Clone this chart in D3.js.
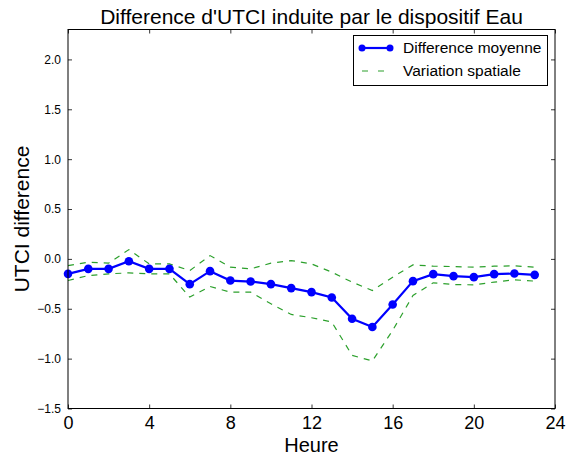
<!DOCTYPE html>
<html><head><meta charset="utf-8">
<script src="https://cdn.jsdelivr.net/npm/d3@7"></script>
<style>body{margin:0;background:#fff;} svg{display:block;font-family:"Liberation Sans",Arial,sans-serif;}</style>
</head><body>
<script>
const hours = d3.range(0, 24);
const meanDiff = [-0.15,-0.10,-0.10,-0.023,-0.10,-0.10,-0.253,-0.123,-0.217,-0.227,-0.253,-0.293,-0.333,-0.387,-0.60,-0.683,-0.457,-0.223,-0.153,-0.173,-0.183,-0.153,-0.147,-0.16];
const upperBand = [-0.067,-0.033,-0.043,0.093,-0.05,-0.05,-0.117,0.033,-0.083,-0.10,-0.043,-0.017,-0.05,-0.133,-0.233,-0.317,-0.183,-0.06,-0.073,-0.077,-0.083,-0.073,-0.07,-0.083];
const lowerBand = [-0.217,-0.167,-0.15,-0.14,-0.15,-0.15,-0.383,-0.277,-0.333,-0.333,-0.45,-0.557,-0.59,-0.633,-0.967,-1.023,-0.717,-0.367,-0.24,-0.257,-0.26,-0.233,-0.21,-0.223];
const xTicks = [0,4,8,12,16,20,24];
const yTicks = [-1.5,-1.0,-0.5,0.0,0.5,1.0,1.5,2.0];
const title = "Difference d'UTCI induite par le dispositif Eau";
const xLabel = "Heure", yLabel = "UTCI difference";
const legendLabels = ["Difference moyenne","Variation spatiale"];

(function(){
const W=570,H=460, L=68,R=555,T=29.5,B=408.5;
const svg=d3.select("body").append("svg").attr("width",W).attr("height",H);
const x=d3.scaleLinear().domain([0,24]).range([L,R]);
const y=d3.scaleLinear().domain([-1.5,2.3]).range([B,T]);

const line=d3.line().x((d,i)=>x(hours[i])).y(d=>y(d));
[upperBand,lowerBand].forEach(arr=>{
  svg.append("path").attr("d",line(arr)).attr("fill","none").attr("stroke","#2ca02c")
    .attr("stroke-width",1.2).attr("stroke-dasharray","6,6");
});
svg.append("path").attr("d",line(meanDiff)).attr("fill","none").attr("stroke","#0000ff").attr("stroke-width",2.2);
svg.selectAll("circle.m").data(meanDiff).enter().append("circle").attr("class","m")
  .attr("cx",(d,i)=>x(hours[i])).attr("cy",d=>y(d)).attr("r",4.3).attr("fill","#0000ff");

const gB=svg.append("g").attr("transform",`translate(0,${B})`)
  .call(d3.axisBottom(x).tickValues(xTicks).tickFormat(d3.format("d")).tickSizeInner(-4).tickSizeOuter(0).tickPadding(6));
gB.select(".domain").remove();
gB.selectAll("text").attr("font-size",18).attr("fill","#000").attr("font-family","Liberation Sans, Arial, sans-serif").attr("dy","0.8em");
const gT=svg.append("g").attr("transform",`translate(0,${T})`)
  .call(d3.axisTop(x).tickValues(xTicks).tickFormat("").tickSizeInner(-4).tickSizeOuter(0));
gT.select(".domain").remove();
const gL=svg.append("g").attr("transform",`translate(${L},0)`)
  .call(d3.axisLeft(y).tickValues(yTicks).tickFormat(d3.format(".1f")).tickSizeInner(-4).tickSizeOuter(0).tickPadding(7));
gL.select(".domain").remove();
gL.selectAll("text").attr("font-size",12).attr("fill","#000").attr("font-family","Liberation Sans, Arial, sans-serif")
  .text(d=>d3.format(".1f")(d).replace("-","\u2212"));
const gR=svg.append("g").attr("transform",`translate(${R},0)`)
  .call(d3.axisRight(y).tickValues(yTicks).tickFormat("").tickSizeInner(-4).tickSizeOuter(0));
gR.select(".domain").remove();
svg.selectAll(".tick line").attr("stroke","#000").attr("stroke-width",0.8);

svg.append("rect").attr("x",L).attr("y",T).attr("width",R-L).attr("height",B-T)
  .attr("fill","none").attr("stroke","#000").attr("stroke-width",1);

svg.append("text").attr("x",(L+R)/2).attr("y",24).attr("text-anchor","middle").attr("font-size",21).text(title);
svg.append("text").attr("x",(L+R)/2).attr("y",452).attr("text-anchor","middle").attr("font-size",20).text(xLabel);
svg.append("text").attr("transform",`translate(29,${(T+B)/2}) rotate(-90)`).attr("text-anchor","middle").attr("font-size",21).text(yLabel);

const lg=svg.append("g");
lg.append("rect").attr("x",353.5).attr("y",35.5).attr("width",194).attr("height",50).attr("fill","#fff").attr("stroke","#000").attr("stroke-width",1);
lg.append("line").attr("x1",362).attr("x2",390).attr("y1",48).attr("y2",48).attr("stroke","#0000ff").attr("stroke-width",2.2);
[362,390].forEach(cx=>lg.append("circle").attr("cx",cx).attr("cy",48).attr("r",3.5).attr("fill","#0000ff"));
lg.append("line").attr("x1",362).attr("x2",390).attr("y1",71).attr("y2",71).attr("stroke","#2ca02c").attr("stroke-width",1.2).attr("stroke-dasharray","6,10");
lg.append("text").attr("x",403).attr("y",53).attr("font-size",15.5).text(legendLabels[0]);
lg.append("text").attr("x",403).attr("y",76).attr("font-size",15.5).text(legendLabels[1]);
})();
</script>
</body></html>
